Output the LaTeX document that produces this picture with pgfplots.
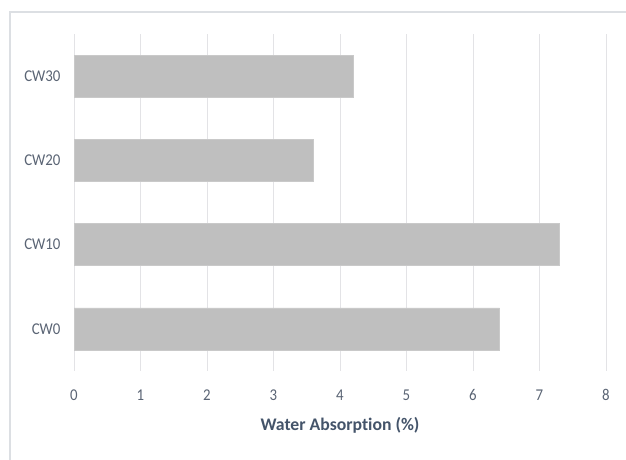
\documentclass[border=0pt]{standalone}
\usepackage{pgfplots}
\pgfplotsset{compat=1.18}
\usepackage{fontspec}
\setmainfont[Ligatures={NoCommon,TeX}]{Carlito}
\newfontfamily\tickfont[FakeStretch=0.9]{Carlito}
\definecolor{barc}{HTML}{BFBFBF}
\definecolor{gridc}{HTML}{E3E3E6}
\definecolor{framec}{HTML}{DCDFE3}
\definecolor{tickc}{HTML}{5A6474}
\definecolor{labc}{HTML}{44546A}
\begin{document}
\begin{tikzpicture}[x=1pt,y=1pt]
\useasboundingbox (0,0) rectangle (626,460);
\draw[framec,line width=1.5pt] (10,-20) -- (10,448) -- (660,448);
\begin{axis}[
  at={(74pt,89pt)}, anchor=south west,
  scale only axis, width=532pt, height=337pt,
  xmin=0, xmax=8, ymin=-0.5, ymax=3.5,
  xtick={0,...,8},
  ytick={0,1,2,3},
  yticklabels={CW0,CW10,CW20,CW30},
  xmajorgrids, grid style={gridc,line width=0.8pt},
  axis line style={draw=none},
  major tick length=0pt,
  tick label style={font=\tickfont\fontsize{16.5}{18}\selectfont, text=tickc},
  /pgf/number format/assume math mode=true,
  xticklabel style={yshift=-15pt},
  yticklabel style={xshift=-10pt},
  xlabel={Water Absorption (\%)},
  xlabel style={font=\fontsize{17.7}{20}\selectfont\bfseries, text=labc, yshift=-10pt},
  xbar, bar width=0.5, bar shift=0pt,
]
\addplot[fill=barc, draw=barc!85!white] coordinates {(6.4,0) (7.3,1) (3.6,2) (4.2,3)};
\end{axis}
\end{tikzpicture}
\end{document}
